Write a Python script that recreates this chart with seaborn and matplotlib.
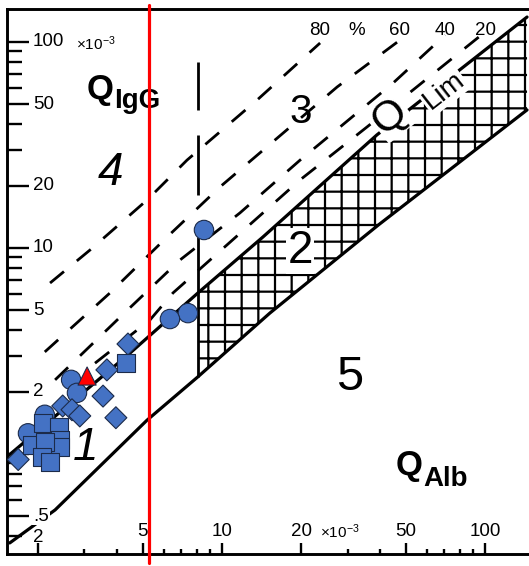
import numpy as np
import pandas as pd
import matplotlib
matplotlib.use("Agg")
import matplotlib.pyplot as plt
import matplotlib.transforms as mtransforms
from matplotlib.ticker import FixedLocator, NullFormatter
import seaborn as sns

# ---------------- data (quotients in units of 10^-3) ----------------
# Reiber hyperbolic discrimination line Q_Lim (IgG)
qlim_x = [1.52, 4.47, 8.10, 14.3, 25.7, 38.8, 144.4]
qlim_y = [0.967, 3.09, 6.05, 11.3, 22.1, 35.4, 132.2]
# lower limit line
lower_x = [1.56, 2.32, 5.19, 8.10, 15.2, 39.2, 144.4]
lower_y = [0.370, 0.535, 1.46, 2.37, 4.83, 12.9, 46.8]
# intrathecal fraction lines (20, 40, 60, 80 %)
p20_x = [3.29, 5.32, 6.51, 19.8, 35.6, 95.7]
p20_y = [2.76, 4.47, 6.05, 21.4, 38.7, 106.9]
p40_x = [2.32, 4.10, 6.92, 11.7, 19.8, 44.7, 70.5]
p40_y = [2.29, 4.62, 8.74, 14.8, 26.7, 63.2, 108.1]
p60_x = [2.12, 3.75, 6.18, 9.83, 27.4, 47.5]
p60_y = [3.13, 6.05, 11.3, 19.8, 60.5, 102.2]
p80_x = [2.22, 3.15, 5.19, 7.36, 13.6, 23.6]
p80_y = [6.76, 9.78, 17.1, 26.7, 52.3, 98.9]
# vertical (age) line of the diagram, drawn in pieces
age_x = 8.10
age_seg_lo = [46.8, 18.1, 2.37]
age_seg_hi = [80.0, 35.4, 11.3]
# red reference line
red_x = 5.28

# patients
circle_x = [8.54, 7.42, 6.34, 2.67, 2.81, 2.12, 1.83]
circle_y = [12.23, 4.83, 4.52, 2.29, 1.98, 1.55, 1.26]
diamond_x = [4.39, 3.65, 3.53, 3.95, 2.48, 2.69, 2.88, 1.68]
diamond_y = [3.42, 2.56, 1.91, 1.50, 1.71, 1.64, 1.53, 0.94]
square_x = [4.32, 2.09, 2.40, 2.42, 2.42, 1.90, 2.12, 2.07, 2.22]
square_y = [2.76, 1.41, 1.35, 1.17, 1.08, 1.11, 1.14, 0.967, 0.914]
triangle_x = [3.07]
triangle_y = [2.39]

# axis tick labels
ytick_vals = [100, 50, 20, 10, 5, 2, 0.5]
ytick_text = ["100", "50", "20", "10", "5", "2", ".5"]
xtick_vals = [2, 5, 10, 20, 50, 100]
xtick_text = ["2", "5", "10", "20", "50", "100"]
pct_text = ["80", "%", "60", "40", "20"]

# ---------------- style ----------------
sns.set_style("white")
plt.rcParams["font.family"] = ["Liberation Sans", "DejaVu Sans"]
plt.rcParams["hatch.linewidth"] = 1.6
plt.rcParams["mathtext.default"] = "regular"
plt.rcParams["text.color"] = "black"

W, H = 529, 566
fig = plt.figure(figsize=(W / 100, H / 100), dpi=100)
AX_L, AX_R, AX_T, AX_B = 7, 529, 9, 554
ax = fig.add_axes([AX_L / W, (H - AX_B) / H, (AX_R - AX_L) / W, (AX_B - AX_T) / H])
ax.set_xscale("log")
ax.set_yscale("log")
XLIM = (1.523, 146.9)
YLIM = (0.327, 144.6)
ax.set_xlim(*XLIM)
ax.set_ylim(*YLIM)
ax.set_facecolor("white")


def frac(px, py):
    return ((px - AX_L) / (AX_R - AX_L), (AX_B - py) / (AX_B - AX_T))


# ---------------- lines ----------------
sns.lineplot(x=qlim_x, y=qlim_y, ax=ax, color="black", lw=2.3,
             sort=False, estimator=None, zorder=3)
sns.lineplot(x=lower_x, y=lower_y, ax=ax, color="black", lw=2.3,
             sort=False, estimator=None, zorder=3)
for lx, ly in [(p20_x, p20_y), (p40_x, p40_y), (p60_x, p60_y), (p80_x, p80_y)]:
    sns.lineplot(x=lx, y=ly, ax=ax, color="black", lw=2.0,
                 linestyle=(0, (6.5, 6)), sort=False, estimator=None, zorder=3)
ax.vlines([age_x] * len(age_seg_lo), age_seg_lo, age_seg_hi,
          color="black", lw=2.0, zorder=3)

# hatched region (between Q_Lim and lower line, right of age line)
up = [(x, y) for x, y in zip(qlim_x, qlim_y) if x >= age_x]
lo = [(x, y) for x, y in zip(lower_x, lower_y) if x >= age_x][::-1]
poly = up + lo
ax.fill([p[0] for p in poly], [p[1] for p in poly], facecolor="none",
        edgecolor="black", hatch="+", linewidth=0, zorder=2)

# ---------------- points ----------------
df = pd.DataFrame({
    "x": circle_x + diamond_x + square_x + triangle_x,
    "y": circle_y + diamond_y + square_y + triangle_y,
    "shape": (["circle"] * len(circle_x) + ["diamond"] * len(diamond_x)
              + ["square"] * len(square_x) + ["triangle"] * len(triangle_x)),
})
sns.scatterplot(
    data=df, x="x", y="y", style="shape", hue="shape", size="shape",
    markers={"circle": "o", "diamond": "D", "square": "s", "triangle": "^"},
    palette={"circle": "#4472C4", "diamond": "#4472C4", "square": "#4472C4",
             "triangle": "#FF0000"},
    sizes={"circle": 195, "diamond": 125, "square": 170, "triangle": 170},
    edgecolor="#1c2b4a", linewidth=0.8, legend=False, ax=ax, zorder=5,
)
ax.set_xlim(*XLIM)
ax.set_ylim(*YLIM)
ax.set_xlabel("")
ax.set_ylabel("")

# red vertical line
ax.axvline(red_x, ymin=-0.017, ymax=1.008, color="#FF0000", lw=2.3,
           clip_on=False, zorder=10)

# ---------------- axes / ticks ----------------
for s in ["left", "top", "bottom"]:
    ax.spines[s].set_visible(True)
    ax.spines[s].set_linewidth(2.1)
    ax.spines[s].set_color("black")
ax.spines["right"].set_visible(False)

ax.yaxis.set_major_locator(FixedLocator([0.5, 1, 2, 5, 10, 20, 50, 100]))
ax.yaxis.set_minor_locator(FixedLocator([0.4, 0.6, 0.7, 0.8, 0.9, 3, 4, 6, 7, 8, 9,
                                         30, 40, 60, 70, 80, 90]))
ax.xaxis.set_major_locator(FixedLocator([2, 5, 10, 20, 50, 100]))
ax.xaxis.set_minor_locator(FixedLocator([3, 4, 6, 7, 8, 9, 30, 40, 60, 70, 80, 90]))
for axis in (ax.xaxis, ax.yaxis):
    axis.set_major_formatter(NullFormatter())
    axis.set_minor_formatter(NullFormatter())
ax.tick_params(axis="y", which="major", direction="in", length=16, width=1.7,
               left=True, right=False, color="black")
ax.tick_params(axis="y", which="minor", direction="in", length=10.5, width=1.7,
               left=True, right=False, color="black")
ax.tick_params(axis="x", which="major", direction="in", length=8, width=1.7,
               bottom=True, top=False, color="black")
ax.tick_params(axis="x", which="minor", direction="in", length=3.5, width=1.7,
               bottom=True, top=False, color="black")

ytr = mtransforms.blended_transform_factory(ax.transAxes, ax.transData)
xtr = mtransforms.blended_transform_factory(ax.transData, ax.transAxes)
ylab_x = frac(33, 0)[0]
for v, t in zip(ytick_vals, ytick_text):
    ax.text(ylab_x, v, t, transform=ytr, fontsize=13.5, ha="left", va="center",
            zorder=6, bbox=dict(fc="white", ec="none", pad=0.5) if t == ".5" else None)
xlab_py = [537, 531, 531, 531, 531, 531]
for v, t, py in zip(xtick_vals, xtick_text, xlab_py):
    ax.text(v, frac(0, py)[1], t, transform=xtr, fontsize=13.5, ha="center",
            va="center", zorder=6)
ax.text(*frac(76, 50), r"$\times10^{-3}$", transform=ax.transAxes, fontsize=11,
        ha="left", va="baseline")
ax.text(*frac(320, 538), r"$\times10^{-3}$", transform=ax.transAxes, fontsize=11,
        ha="left", va="baseline")

# percentage labels
for t, px in zip(pct_text, [320, 357, 400, 445, 486]):
    ax.text(*frac(px, 35), t, transform=ax.transAxes, fontsize=13.5,
            ha="center", va="baseline")

# axis titles
ax.text(*frac(87, 99), "Q", transform=ax.transAxes, fontsize=25,
        fontweight="bold", ha="left", va="baseline")
ax.text(*frac(114, 108), "IgG", transform=ax.transAxes, fontsize=20,
        fontweight="bold", ha="left", va="baseline")
ax.text(*frac(396, 475), "Q", transform=ax.transAxes, fontsize=25,
        fontweight="bold", ha="left", va="baseline")
ax.text(*frac(423, 486), "Alb", transform=ax.transAxes, fontsize=20,
        fontweight="bold", ha="left", va="baseline")

# Q_Lim label on the curve
ax.text(*frac(390, 116), "Q", transform=ax.transAxes, fontsize=31,
        rotation=38, rotation_mode="anchor", ha="center", va="center", zorder=4,
        bbox=dict(fc="white", ec="none", pad=1))
ax.text(*frac(444, 91), "Lim", transform=ax.transAxes, fontsize=20,
        rotation=38, rotation_mode="anchor", ha="center", va="center", zorder=4,
        bbox=dict(fc="white", ec="none", pad=1))

# region numbers
ax.text(*frac(110, 185), "4", transform=ax.transAxes, fontsize=33,
        fontstyle="italic", ha="center", va="baseline")
ax.text(*frac(301, 123), "3", transform=ax.transAxes, fontsize=29,
        ha="center", va="baseline")
ax.text(*frac(300, 263), "2", transform=ax.transAxes, fontsize=33,
        ha="center", va="baseline", zorder=4,
        bbox=dict(fc="white", ec="none", pad=1))
ax.text(*frac(86, 460), "1", transform=ax.transAxes, fontsize=33,
        fontstyle="italic", ha="center", va="baseline")
ax.text(*frac(350, 390), "5", transform=ax.transAxes, fontsize=35,
        ha="center", va="baseline")

fig.savefig("out.png", dpi=100, facecolor="white")
